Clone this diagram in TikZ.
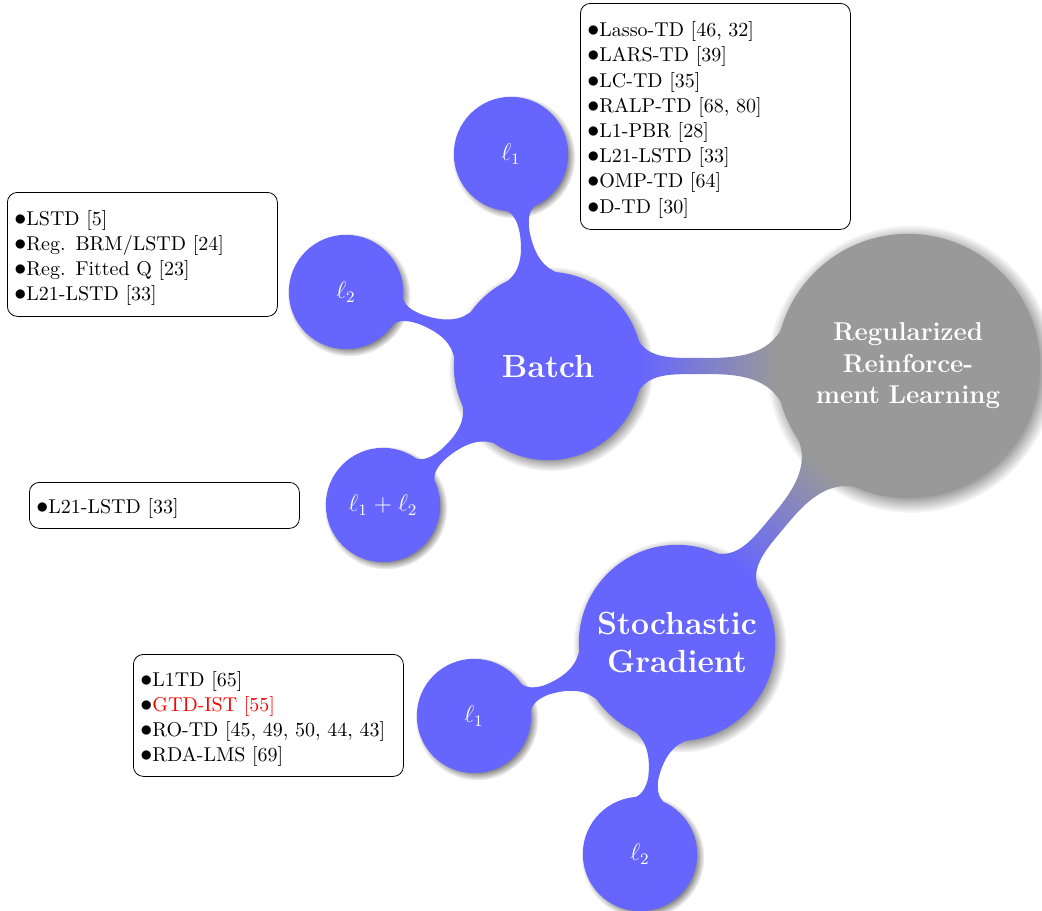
\documentclass[tikz,border=0pt]{standalone}
\usetikzlibrary{mindmap,shadows}
\newcommand{\itm}{{\fontsize{12}{14}\selectfont$\bullet$}}
\begin{document}
\begin{tikzpicture}[x=0.5pt,y=-0.5pt]
\useasboundingbox (0,0) rectangle (1042,910);
\tikzset{
  rootconcept/.style={concept, concept color=black!40, text=white, circular drop shadow,
    minimum size=131pt, text width=100pt, inner sep=0pt, align=center,
    font=\bfseries\fontsize{12.9}{15.8}\selectfont},
  mainconcept/.style={concept, concept color=blue!60, text=white, circular drop shadow,
    minimum size=#1, text width=82pt, inner sep=0pt, align=center,
    font=\bfseries\fontsize{16}{19}\selectfont},
  leafconcept/.style={concept, concept color=blue!60, text=white, circular drop shadow,
    minimum size=56pt, text width=45pt, inner sep=0pt, align=center,
    font=\fontsize{12}{14}\selectfont},
  listbox/.style={draw=black, rounded corners=5pt, fill=white, anchor=north west,
    inner xsep=3.5pt, inner ysep=0pt, text width=128pt, minimum height=#1,
    align=left, font=\fontsize{10}{12.6}\selectfont},
  greybar/.style={circle connection bar switch color=from (black!40) to (blue!60)},
  bluebar/.style={circle connection bar switch color=from (blue!60) to (blue!60)},
}
\begin{scope}[mindmap]
  \node[rootconcept] (root) at (908,366) {Regularized\\Reinforce-\\ment Learning};
  \node[mainconcept=93pt] (batch) at (548,366) {Batch};
  \node[mainconcept=97pt] (stoch) at (677,643) {Stochastic\\Gradient};
  \node[leafconcept] (b1) at (511,154) {$\ell_1$};
  \node[leafconcept] (b2) at (346,292) {$\ell_2$};
  \node[leafconcept] (b3) at (383,505) {$\ell_1+\ell_2$};
  \node[leafconcept] (s1) at (474,716) {$\ell_1$};
  \node[leafconcept] (s2) at (640,854) {$\ell_2$};
  \path (root) to[greybar] (batch);
  \path (root) to[greybar] (stoch);
  \path (batch) to[bluebar] (b1);
  \path (batch) to[bluebar] (b2);
  \path (batch) to[bluebar] (b3);
  \path (stoch) to[bluebar] (s1);
  \path (stoch) to[bluebar] (s2);
\end{scope}
\node[listbox=113pt] (l1box) at (580,3) {\rule{0pt}{11pt}\itm Lasso-TD [46, 32]\\
  \itm LARS-TD [39]\\
  \itm LC-TD [35]\\
  \itm RALP-TD [68, 80]\\
  \itm L1-PBR [28]\\
  \itm L21-LSTD [33]\\
  \itm OMP-TD [64]\\
  \itm D-TD [30]};
\node[listbox=62pt] (l2box) at (7,192) {\rule{0pt}{11pt}\itm LSTD [5]\\
  \itm Reg. BRM/LSTD [24]\\
  \itm Reg. Fitted Q [23]\\
  \itm L21-LSTD [33]};
\node[listbox=23pt] (l12box) at (29,482) {\rule{0pt}{11pt}\itm L21-LSTD [33]};
\node[listbox=61pt] (sgbox) at (133,654) {\rule{0pt}{11pt}\itm L1TD [65]\\
  \itm \textcolor{red}{GTD-IST [55]}\\
  \itm RO-TD [45, 49, 50, 44, 43]\\
  \itm RDA-LMS [69]};
\end{tikzpicture}
\end{document}
